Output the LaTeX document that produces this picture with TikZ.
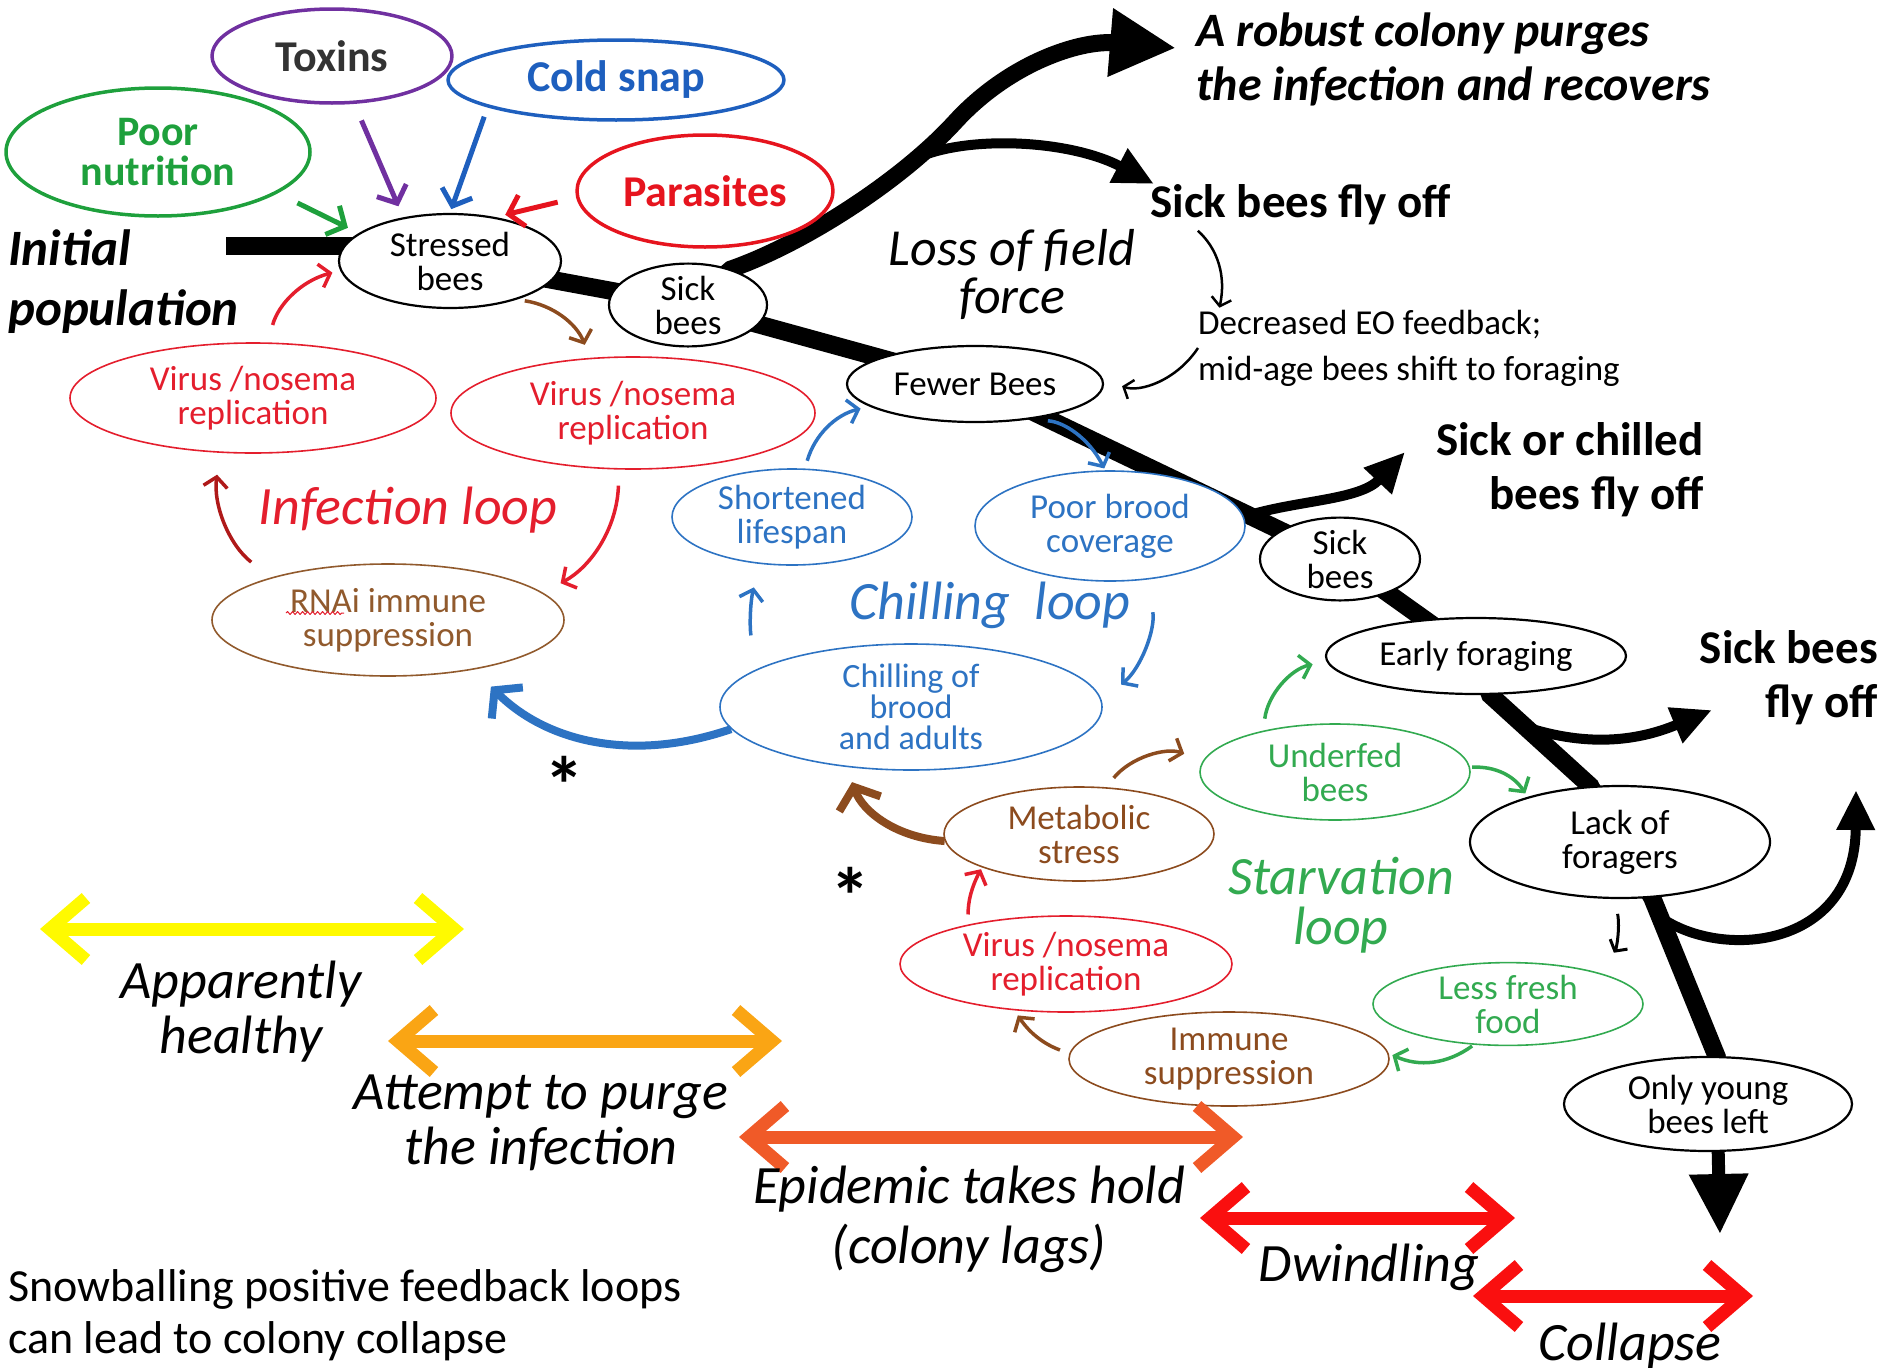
\documentclass[tikz,border=0pt]{standalone}
\usepackage{fontspec}
\setmainfont{Carlito}
\usetikzlibrary{shapes.geometric,arrows.meta,backgrounds,calc,decorations.pathmorphing}

\definecolor{nutrigreen}{RGB}{30,160,60}
\definecolor{toxpurple}{RGB}{112,48,160}
\definecolor{coldblue}{RGB}{30,95,190}
\definecolor{parared}{RGB}{230,20,30}
\definecolor{virred}{RGB}{228,30,45}
\definecolor{rnaibrown}{RGB}{145,90,45}
\definecolor{chillblue}{RGB}{45,115,195}
\definecolor{starvegreen}{RGB}{50,170,80}
\definecolor{metabrown}{RGB}{140,75,30}
\definecolor{darkred}{RGB}{175,25,25}
\definecolor{stageyellow}{RGB}{255,250,0}
\definecolor{stageorange}{RGB}{250,165,20}
\definecolor{stageflame}{RGB}{240,90,40}
\definecolor{stagered}{RGB}{250,15,15}

\begin{document}
\begin{tikzpicture}[x=1pt,y=-1pt,line join=round,
    sz/.style 2 args={minimum width=#1pt,minimum height=#2pt},
    cause/.style={ellipse,draw,line width=3.5pt,inner sep=0pt,align=center,
      font=\fontsize{44}{38}\selectfont\bfseries},
    bee/.style={ellipse,draw,line width=2.2pt,fill=white,inner sep=0pt,align=center,
      font=\fontsize{35}{34}\selectfont},
    loopnode/.style={bee,line width=1.6pt,draw=#1,text=#1},
    mainline/.style={line width=18pt},
    flyoff/.style={line width=10pt,-{Triangle[length=40pt,width=36pt]}},
    arr/.style={line width=3.5pt,-{Straight Barb[length=10pt,width=24pt]}},
    causearr/.style={line width=5pt,-{Straight Barb[length=14pt,width=32pt]}},
    bigarr/.style={line width=8pt,-{Straight Barb[length=18pt,width=44pt]}},
    textarr/.style={line width=2.5pt,-{Straight Barb[length=8pt,width=20pt]}},
    stage/.style={line width=13pt,
      {Straight Barb[length=36pt,width=62pt]}-{Straight Barb[length=36pt,width=62pt]}},
    looplabel/.style={inner sep=0pt,align=center,font=\fontsize{54}{55}\selectfont\itshape},
    outcome/.style={inner sep=0pt,font=\fontsize{47}{54}\selectfont\bfseries},
    plain/.style={inner sep=0pt,align=left,font=\fontsize{35}{46}\selectfont}]
  \useasboundingbox (0,0) rectangle (1883,1368);

  % what stresses the colony
  \node[cause,sz={240}{94},draw=toxpurple,text=black!80] (toxins) at (332,56) {Toxins};
  \node[cause,sz={336}{80},draw=coldblue,text=coldblue] (cold) at (616,80) {Cold snap};
  \node[cause,sz={304}{128},draw=nutrigreen,text=nutrigreen,font=\fontsize{42}{40}\selectfont\bfseries]
    (nutri) at (158,152) {Poor\\nutrition};
  \node[cause,sz={256}{112},draw=parared,text=parared] (parasites) at (705,191) {Parasites};
  \node[outcome,font=\fontsize{51}{60}\selectfont\bfseries\itshape,align=left,anchor=west]
    (init) at (8,282) {Initial\\population};

  % the bee population line
  \node[bee,sz={222}{94}] (stressed) at (450,261) {Stressed\\bees};
  \node[bee,sz={158}{78}] (sick1) at (688,305) {Sick\\bees};
  \node[bee,sz={256}{76}] (fewer) at (975,384) {Fewer Bees};
  \node[bee,sz={160}{78}] (sick2) at (1340,559) {Sick\\bees};
  \node[bee,sz={300}{76}] (early) at (1476,656) {Early foraging};
  \node[bee,sz={300}{112}] (lack) at (1620,842) {Lack of\\foragers};
  \node[bee,sz={288}{94}] (young) at (1708,1104) {Only young\\bees left};

  % feedback loops
  \node[loopnode=virred,sz={366}{110}] (vir1) at (253,398) {Virus /nosema\\replication};
  \node[loopnode=virred,sz={364}{112}] (vir2) at (633,413) {Virus /nosema\\replication};
  \node[loopnode=rnaibrown,sz={352}{112}] (rnai) at (388,620) {RNAi immune\\suppression};
  \node[loopnode=chillblue,sz={240}{96}] (short) at (792,517) {Shortened\\lifespan};
  \node[loopnode=chillblue,sz={270}{110}] (brood) at (1110,526) {Poor brood\\coverage};
  \node[loopnode=chillblue,sz={382}{126},font=\fontsize{34}{31}\selectfont]
    (chill) at (911,707) {Chilling of\\brood\\and adults};
  \node[loopnode=metabrown,sz={270}{94}] (metab) at (1079,834) {Metabolic\\stress};
  \node[loopnode=starvegreen,sz={270}{96}] (underfed) at (1335,772) {Underfed\\bees};
  \node[loopnode=virred,sz={332}{96}] (vir3) at (1066,964) {Virus /nosema\\replication};
  \node[loopnode=starvegreen,sz={270}{76}] (less) at (1508,1004) {Less fresh\\food};
  \node[loopnode=metabrown,sz={320}{94}] (immune) at (1229,1059) {Immune\\suppression};
  \draw[virred,line width=1pt,decorate,decoration={snake,amplitude=1.5pt,segment length=5pt}]
    ($(rnai.center)+(-102,-7)$) -- ++(58,0);

  \node[looplabel,text=virred] (infloop) at (408,510) {Infection loop};
  \node[looplabel,text=chillblue] (chilloop) at (990,605) {Chilling~~loop};
  \node[looplabel,text=starvegreen,font=\fontsize{54}{50}\selectfont\itshape]
    (starveloop) at (1341,905) {Starvation\\loop};
  \node[looplabel,font=\fontsize{52}{48}\selectfont\itshape] (fieldloss) at (1012,274) {Loss of field\\force};
  \node[font=\fontsize{80}{80}\selectfont\bfseries] (astA) at (564,785) {*};
  \node[font=\fontsize{80}{80}\selectfont\bfseries] (astB) at (850,896) {*};

  % outcomes
  \node[outcome,font=\fontsize{48}{54}\selectfont\bfseries\itshape,align=left,anchor=west]
    (robust) at (1196,59) {A robust colony purges\\the infection and recovers};
  \node[outcome,anchor=west] (flyoffA) at (1150,205) {Sick bees fly off};
  \node[plain,anchor=west] (eo) at (1198,348) {Decreased EO feedback;\\mid-age bees shift to foraging};
  \node[outcome,align=right,anchor=east] (flyoffB) at (1704,470) {Sick or chilled\\bees fly off};
  \node[outcome,align=right,anchor=east] (flyoffC) at (1878,678) {Sick bees\\fly off};

  \begin{scope}[on background layer]
    \coordinate (origin) at (226,246);
    \draw[mainline] (origin) -- (origin -| stressed.center);
    \draw[mainline] (stressed.center) -- (sick1.center) -- (fewer.center)
      -- coordinate[pos=0.75] (forkB) (sick2.center) -- (early.center) -- (early.-70)
      -- coordinate[pos=0.35] (forkC) (lack.118) -- (lack.center) -- (lack.-60)
      -- coordinate[pos=0.12] (forkD) (young.80) -- (young.center);
    \coordinate (bendA) at (955,122);
    \coordinate (tipA) at (1176,48);
    \draw[line width=17pt,-{Triangle[length=66pt,width=64pt]}] (sick1.center) -- (sick1.40)
      .. controls (803,244) and (901,181) .. coordinate[pos=0.8] (forkA) (bendA)
      .. controls (1009,63) and (1080,40) .. (tipA);
    \coordinate (tipB) at (1154,184);
    \draw[flyoff] (forkA) .. controls (970,135) and (1070,140) .. (tipB);
    \coordinate (tipC) at (1405,452);
    \draw[flyoff] (forkB) .. controls (1300,500) and (1360,500) .. (tipC);
    \coordinate (tipD) at (1712,710);
    \draw[flyoff] (forkC) .. controls (1590,748) and (1640,740) .. (tipD);
    \coordinate (tipE) at (1856,790);
    \draw[flyoff] (forkD) .. controls (1720,960) and (1855,950) .. (tipE);
    \coordinate (tipY) at (1720,1234);
    \draw[line width=13pt,-{Triangle[length=60pt,width=56pt]}] (young.center) -- (young.-78) -- (tipY);
  \end{scope}

  % causes into stressed bees
  \draw[causearr,nutrigreen,shorten <=22pt,shorten >=12pt] (nutri.-19) -- (stressed.163);
  \draw[causearr,toxpurple,shorten <=18pt,shorten >=12pt] (toxins.-65) -- (stressed.137);
  \draw[causearr,coldblue,shorten <=10pt,shorten >=4pt] (cold.192) -- (stressed.90);
  \draw[causearr,parared,shorten <=19pt,shorten >=10pt] (parasites.183) -- (stressed.44);

  % infection loop
  \draw[arr,virred,shorten <=18pt,shorten >=8pt] (vir1.75) to[bend left=30] (stressed.185);
  \draw[arr,metabrown,shorten <=8pt,shorten >=14pt] (stressed.-30) to[bend left=30] (vir2.128);
  \draw[arr,darkred,shorten <=25pt,shorten >=22pt] (rnai.160) to[bend left=30] (vir1.239);
  \draw[arr,virred,shorten <=16pt,shorten >=20pt] (vir2.256) to[bend left=30] (rnai.10);

  % chilling loop
  \draw[bigarr,chillblue,shorten >=24pt] (chill.187) to[bend left=32] (rnai.-30);
  \draw[arr,chillblue,shorten <=34pt,shorten >=24pt] (chill.166) to[bend left=12] (short.235);
  \draw[arr,chillblue,shorten <=8pt,shorten >=9pt] (short.75) to[bend left=30] (fewer.192);
  \draw[arr,chillblue,shorten <=20pt,shorten >=2pt] (fewer.-34) to[bend left=30] (brood.95);
  \draw[arr,chillblue,shorten <=33pt,shorten >=25pt] (brood.-55) to[bend left=30] (chill.2);

  % starvation loop
  \draw[bigarr,metabrown,shorten >=16pt] (metab.183) to[bend left=33] (chill.223);
  \draw[arr,metabrown,shorten <=12pt,shorten >=20pt] (metab.60) to[bend left=35] (underfed.175);
  \draw[arr,starvegreen,shorten <=12pt,shorten >=14pt] (underfed.150) to[bend left=35] (early.182);
  \draw[arr,starvegreen,shorten <=2pt,shorten >=4pt] (underfed.2) to[bend left=30] (lack.154);
  \draw[textarr,line width=3pt,shorten <=15pt,shorten >=24pt] (lack.-95) to[bend left=20] (less.18);
  \draw[arr,starvegreen,shorten <=2pt,shorten >=4pt] (less.230) to[bend left=30] (immune.2);
  \draw[arr,metabrown,shorten <=10pt,shorten >=6pt] (immune.178) to[bend left=18] (vir3.222);
  \draw[arr,virred,shorten <=10pt,shorten >=2pt] (vir3.158) to[bend left=14] (metab.199);

  % field force feedback
  \draw[textarr,shorten <=8pt,shorten >=2pt] ([xshift=42pt]flyoffA.south west) to[bend left=30] ([xshift=21pt]eo.north west);
  \draw[textarr,shorten >=20pt] (eo.west) to[bend left=38] (fewer.2);

  % stages
  \coordinate (healthyL) at (40,929);     \coordinate (healthyR) at (464,929);
  \coordinate (purgeL) at (388,1041);     \coordinate (purgeR) at (782,1041);
  \coordinate (epiL) at (739,1137);       \coordinate (epiR) at (1243,1137);
  \coordinate (dwindleL) at (1200,1218);  \coordinate (dwindleR) at (1515,1218);
  \coordinate (collapseL) at (1473,1296); \coordinate (collapseR) at (1753,1296);
  \foreach \l/\r/\c in {healthyL/healthyR/stageyellow,purgeL/purgeR/stageorange,
      epiL/epiR/stageflame,dwindleL/dwindleR/stagered,collapseL/collapseR/stagered}
    \draw[stage,\c] (\l) -- (\r);
  \node[looplabel] (healthy) at (241,1012) {Apparently\\healthy};
  \node[looplabel] (purge) at (541,1123) {Attempt to purge\\the infection};
  \node[looplabel,font=\fontsize{54}{60}\selectfont\itshape] (epidemic) at (969,1219) {Epidemic takes hold\\(colony lags)};
  \node[looplabel] (dwindle) at (1369,1267) {Dwindling};
  \node[looplabel] (collapse) at (1630,1346) {Collapse};

  \node[plain,font=\fontsize{46}{52}\selectfont,anchor=west] (snow) at (8,1315)
    {Snowballing positive feedback loops\\can lead to colony collapse};
\end{tikzpicture}
\end{document}
